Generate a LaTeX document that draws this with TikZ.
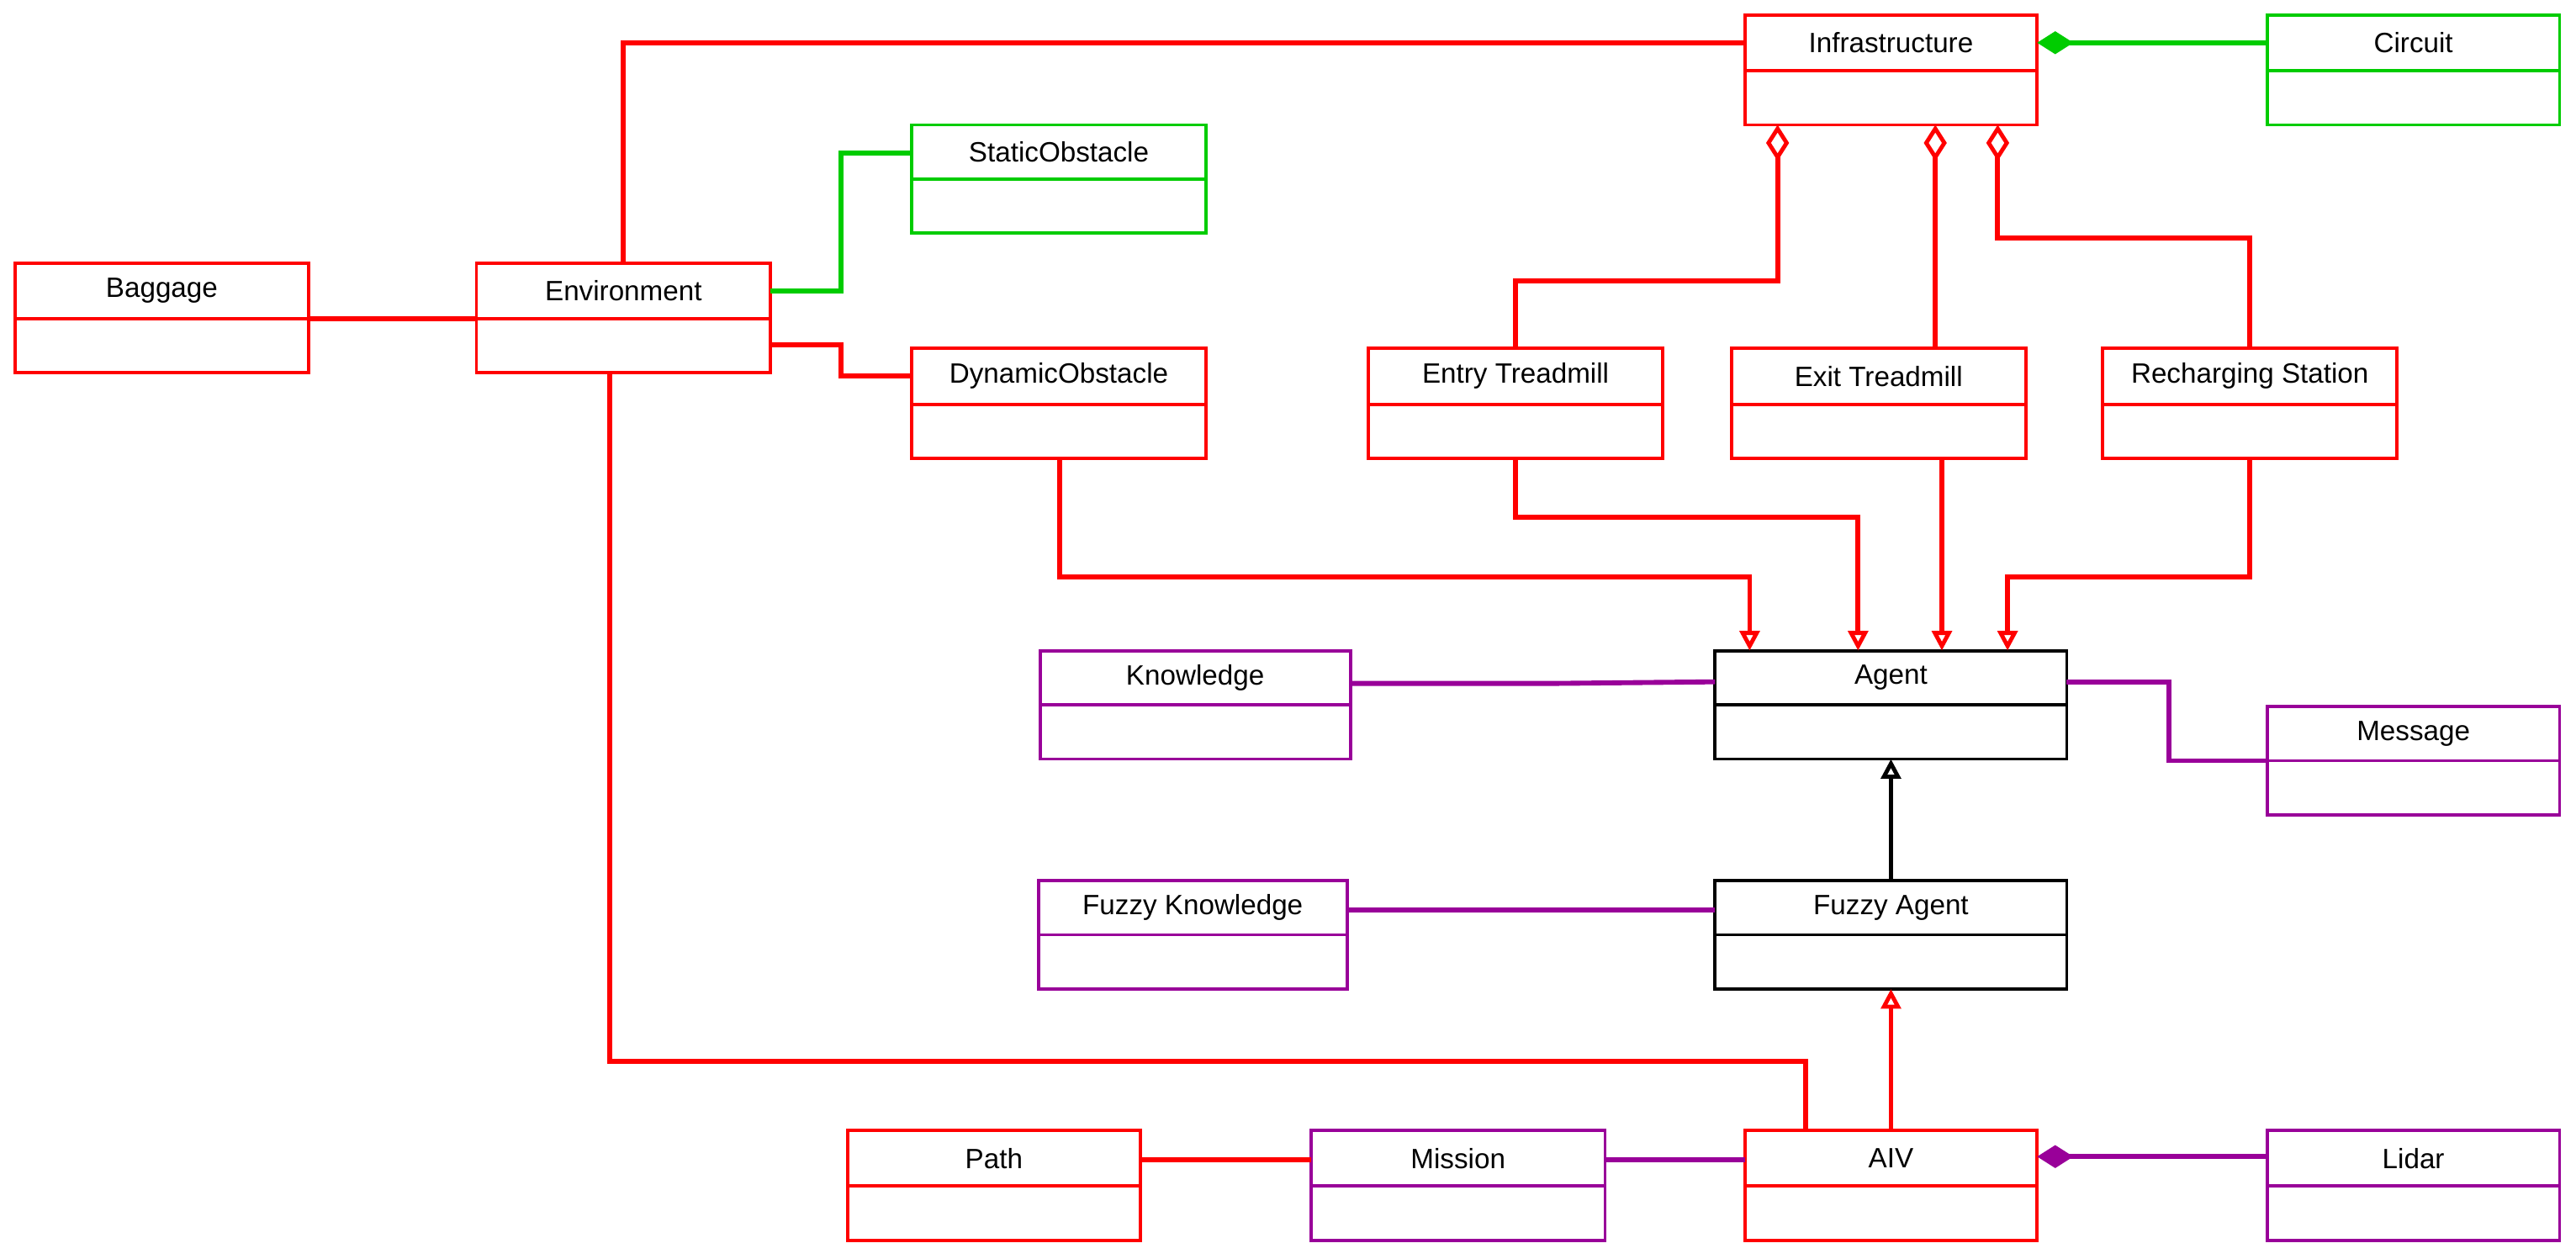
\documentclass[tikz,border=0pt]{standalone}
\usepackage{fontspec}
\setmainfont{Liberation Sans}
\usetikzlibrary{arrows.meta,calc}
\definecolor{cred}{HTML}{FF0000}
\definecolor{cgreen}{HTML}{00CC00}
\definecolor{cpurple}{HTML}{990099}
\newcommand\ubox[8]{%
 \node[draw=#7,line width=2pt,minimum width={(#4-#2)*1pt},minimum height={(#5-#3)*1pt},inner sep=0,outer sep=0] (#1) at ({(#2+#4)/2},{(#3+#5)/2}) {};
 \draw[#7,line width=2pt] (#2,#6)--(#4,#6);
 \node[font=\fontsize{17}{20}\selectfont] at ({(#2+#4)/2},{(#3+#6)/2}) {#8};}
\tikzset{cl/.style={line width=3pt},
 tri/.style={-{Triangle[open,length=12pt,width=12pt,line width=2.5pt,fill=white]}},
 odia/.style={-{Diamond[open,length=22pt,width=14pt,line width=2.5pt,fill=white]}},
 fdia/.style={-{Diamond[length=22pt,width=14pt]}}}
\begin{document}
\begin{tikzpicture}[x=1pt,y=-1pt]
\useasboundingbox (0,0) rectangle (1568,766);
\ubox{infra}{1062}{9}{1240}{76}{43}{cred}{Infrastructure}
\ubox{circ}{1380}{9}{1558}{76}{43}{cgreen}{Circuit}
\ubox{stat}{555}{76}{734}{142}{109}{cgreen}{StaticObstacle}
\ubox{bag}{9}{160}{188}{227}{194}{cred}{Baggage}
\ubox{env}{290}{160}{469}{227}{194}{cred}{Environment}
\ubox{dyn}{555}{212}{734}{279}{246}{cred}{DynamicObstacle}
\ubox{entry}{833}{212}{1012}{279}{246}{cred}{Entry Treadmill}
\ubox{exit}{1054}{212}{1233}{279}{246}{cred}{Exit Treadmill}
\ubox{rech}{1280}{212}{1459}{279}{246}{cred}{Recharging Station}
\ubox{know}{633}{396}{822}{462}{429}{cpurple}{Knowledge}
\ubox{agent}{1044}{396}{1258}{462}{429}{black}{Agent}
\ubox{msg}{1380}{430}{1558}{496}{463}{cpurple}{Message}
\ubox{fk}{632}{536}{820}{602}{569}{cpurple}{Fuzzy Knowledge}
\ubox{fa}{1044}{536}{1258}{602}{569}{black}{Fuzzy Agent}
\ubox{path}{516}{688}{694}{755}{722}{cred}{Path}
\ubox{mis}{798}{688}{977}{755}{722}{cpurple}{Mission}
\ubox{aiv}{1062}{688}{1240}{755}{722}{cred}{AIV}
\ubox{lid}{1380}{688}{1558}{755}{722}{cpurple}{Lidar}
% connectors
\draw[cred,cl] (env.north) |- ($(infra.north west)+(0,17)$);
\draw[cgreen,cl,fdia] ($(circ.north west)+(0,17)$) -- ($(infra.north east)+(0,17)$);
\draw[cgreen,cl] ($(env.north east)+(0,17)$) -- ++(43,0) |- ($(stat.north west)+(0,17)$);
\draw[cred,cl] ($(bag.north east)+(0,34)$) -- ($(env.north west)+(0,34)$);
\draw[cred,cl] ($(env.north east)+(0,50)$) -- ++(43,0) |- ($(dyn.north west)+(0,17)$);
\draw[cred,cl,odia] (entry.north) -- ++(0,-41) -| ($(infra.south west)+(20,0)$);
\coordinate (ix) at ($(infra.south west)+(116,0)$);
\draw[cred,cl,odia] (ix |- exit.north) -- (ix);
\draw[cred,cl,odia] (rech.north) -- ++(0,-67) -| ($(infra.south west)+(154,0)$);
\draw[cred,cl,tri] ($(dyn.south west)+(90,0)$) -- ++(0,72) -| ($(agent.north west)+(21,0)$);
\draw[cred,cl,tri] (entry.south) -- ++(0,36) -| ($(agent.north west)+(87,0)$);
\coordinate (ex) at ($(exit.south west)+(128,0)$);
\draw[cred,cl,tri] (ex) -- (ex |- agent.north);
\draw[cred,cl,tri] (rech.south) -- ++(0,72) -| ($(agent.north west)+(178,0)$);
\draw[cpurple,cl] ($(know.north east)+(0,20)$) -- ++(123,0) -- ($(agent.north west)+(0,19)$);
\draw[cpurple,cl] ($(agent.north east)+(0,19)$) -- ++(62,0) |- ($(msg.north west)+(0,33)$);
\draw[black,cl,tri] (fa.north) -- (agent.south);
\draw[cpurple,cl] ($(fk.north east)+(0,18)$) -- ($(fa.north west)+(0,18)$);
\draw[cred,cl] ($(env.south west)+(81,0)$) -- ++(0,419) -| ($(aiv.north west)+(37,0)$);
\draw[cred,cl,tri] (aiv.north) -- (fa.south);
\draw[cred,cl] ($(path.north east)+(0,18)$) -- ($(mis.north west)+(0,18)$);
\draw[cpurple,cl] ($(mis.north east)+(0,18)$) -- ($(aiv.north west)+(0,18)$);
\draw[cpurple,cl,fdia] ($(lid.north west)+(0,16)$) -- ($(aiv.north east)+(0,16)$);
\end{tikzpicture}
\end{document}
